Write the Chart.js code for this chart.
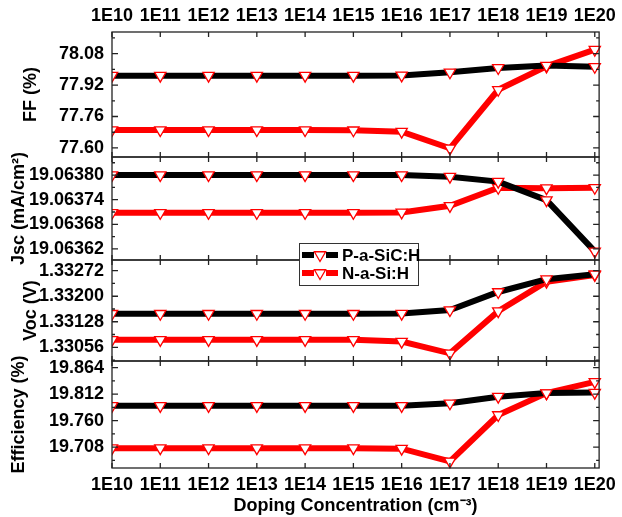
<!DOCTYPE html>
<html>
<head>
<meta charset="utf-8">
<script src="https://cdn.jsdelivr.net/npm/chart.js"></script>
<style>
  body { margin: 0; background: #fff; }
</style>
</head>
<body>
<canvas id="c" width="622" height="517"></canvas>
<script>
// doping levels (x axis)
var doping = ['1E10', '1E11', '1E12', '1E13', '1E14', '1E15', '1E16', '1E17', '1E18', '1E19', '1E20'];
var exponents = [10, 11, 12, 13, 14, 15, 16, 17, 18, 19, 20];
var seriesNames = ['P-a-SiC:H', 'N-a-Si:H'];

// values
var ffP = [77.968, 77.968, 77.968, 77.968, 77.968, 77.968, 77.969, 77.985, 78.007, 78.019, 78.013];
var ffN = [77.691, 77.691, 77.691, 77.691, 77.691, 77.690, 77.683, 77.598, 77.896, 78.015, 78.100];
var jscP = [19.063800, 19.063800, 19.063800, 19.063800, 19.063800, 19.063800, 19.063800, 19.063796, 19.063784, 19.063739, 19.063614];
var jscN = [19.063708, 19.063708, 19.063708, 19.063708, 19.063708, 19.063708, 19.063709, 19.063725, 19.063769, 19.063768, 19.063769];
var vocP = [1.331506, 1.331506, 1.331506, 1.331506, 1.331506, 1.331506, 1.331510, 1.33161, 1.33212, 1.33248, 1.33262];
var vocN = [1.33077, 1.33077, 1.33077, 1.33077, 1.33077, 1.33077, 1.33072, 1.33039, 1.33158, 1.33241, 1.33260];
var effP = [19.789, 19.789, 19.789, 19.789, 19.789, 19.789, 19.789, 19.794, 19.807, 19.814, 19.815];
var effN = [19.706, 19.706, 19.706, 19.706, 19.706, 19.706, 19.705, 19.680, 19.771, 19.814, 19.836];

// tick labels of each panel
var ffTicks = [77.60, 77.76, 77.92, 78.08];
var jscTicks = [19.06362, 19.06368, 19.06374, 19.06380];
var vocTicks = [1.33056, 1.33128, 1.33200, 1.33272];
var effTicks = [19.708, 19.760, 19.812, 19.864];

var FONT = "'Liberation Sans', Arial, sans-serif";

// top to bottom
var panels = [
  { id: 'yFF', title: 'FF (%)', p: ffP, n: ffN, ticks: ffTicks, min: 77.554, max: 78.19, digits: 2, weight: 125, pad: 14 },
  { id: 'yJsc', title: 'Jsc (mA/cm\u00B2)', p: jscP, n: jscN, ticks: jscTicks, min: 19.063593, max: 19.063844, digits: 5, weight: 103, pad: 2 },
  { id: 'yVoc', title: 'Voc (V)', p: vocP, n: vocN, ticks: vocTicks, min: 1.330173, max: 1.333022, digits: 5, weight: 101, pad: 14 },
  { id: 'yEff', title: 'Efficiency (%)', p: effP, n: effN, ticks: effTicks, min: 19.667, max: 19.877, digits: 3, weight: 107, pad: 2 }
];

function pts(vals) {
  return vals.map(function (v, i) { return { x: exponents[i], y: v }; });
}

function series(label, vals, axis, color) {
  return {
    label: label,
    data: pts(vals),
    xAxisID: 'x',
    yAxisID: axis,
    borderColor: color,
    backgroundColor: color,
    borderWidth: 6,
    fill: false,
    tension: 0,
    pointStyle: 'triangle',
    rotation: 180,
    pointRadius: 6.5,
    pointBorderColor: '#ff0000',
    pointBackgroundColor: '#ffffff',
    pointBorderWidth: 1.3,
    clip: { left: 0, top: false, right: false, bottom: false }
  };
}

var datasets = [];
panels.forEach(function (p) {
  datasets.push(series(seriesNames[0], p.p, p.id, '#000000'));
  datasets.push(series(seriesNames[1], p.n, p.id, '#ff0000'));
});

var tickFont = { family: FONT, size: 18, weight: 'bold' };

var scales = {
  x: {
    type: 'linear', position: 'bottom', min: 10, max: 20.09,
    grid: { display: false, drawTicks: false }, border: { display: false },
    afterBuildTicks: function (s) { s.ticks = exponents.map(function (v) { return { value: v }; }); },
    afterFit: function (s) { s.height = 49; },
    ticks: {
      autoSkip: false, maxRotation: 0, padding: 6, color: '#000', font: tickFont,
      callback: function (v, i) { return doping[i]; }
    },
    title: { display: true, text: 'Doping Concentration (cm\u207B\u00B3)', color: '#000', font: tickFont, padding: 0 }
  },
  x2: {
    type: 'linear', position: 'top', min: 10, max: 20.09,
    grid: { display: false, drawTicks: false }, border: { display: false },
    afterBuildTicks: function (s) { s.ticks = exponents.map(function (v) { return { value: v }; }); },
    afterFit: function (s) { s.height = 32; },
    ticks: {
      autoSkip: false, maxRotation: 0, padding: 5, color: '#000', font: tickFont,
      callback: function (v, i) { return doping[i]; }
    }
  }
};

// stacked y axes, the last one defined ends up on top
panels.slice().reverse().forEach(function (p) {
  scales[p.id] = {
    type: 'linear', position: 'left', stack: 'panels', stackWeight: p.weight,
    min: p.min, max: p.max,
    grid: { display: false, drawTicks: false }, border: { display: false },
    afterBuildTicks: function (s) { s.ticks = p.ticks.map(function (v) { return { value: v }; }); },
    afterFit: function (s) { s.width = 106; },
    ticks: {
      autoSkip: false, padding: 8, color: '#000', font: tickFont,
      callback: function (v) { return v.toFixed(p.digits); }
    },
    title: { display: true, text: p.title, color: '#000', font: tickFont, padding: { top: p.pad, bottom: 0 } }
  };
});

// frame of each panel with inward ticks
var framePlugin = {
  id: 'frame',
  afterDatasetsDraw: function (chart) {
    var ctx = chart.ctx, a = chart.chartArea, xs = chart.scales.x;
    ctx.save();
    ctx.strokeStyle = '#222';
    ctx.lineWidth = 1.3;
    panels.forEach(function (p) {
      var s = chart.scales[p.id];
      ctx.strokeRect(a.left, s.top, a.right - a.left, s.bottom - s.top);
      ctx.beginPath();
      exponents.forEach(function (e) {
        var px = xs.getPixelForValue(e);
        ctx.moveTo(px, s.top); ctx.lineTo(px, s.top + 5);
        ctx.moveTo(px, s.bottom); ctx.lineTo(px, s.bottom - 5);
      });
      var step = p.ticks[1] - p.ticks[0];
      p.ticks.forEach(function (t, i) {
        var py = s.getPixelForValue(t);
        ctx.moveTo(a.left, py); ctx.lineTo(a.left + 6, py);
        ctx.moveTo(a.right, py); ctx.lineTo(a.right - 6, py);
        var minors = [t + step / 2];
        if (i === 0) minors.push(t - step / 2);
        minors.forEach(function (m) {
          if (m <= p.min || m >= p.max) return;
          var my = s.getPixelForValue(m);
          ctx.moveTo(a.left, my); ctx.lineTo(a.left + 3, my);
          ctx.moveTo(a.right, my); ctx.lineTo(a.right - 3, my);
        });
      });
      ctx.stroke();
    });
    ctx.restore();
  }
};

function downTriangle(ctx, x, y, r) {
  ctx.beginPath();
  for (var k = 0; k < 3; k++) {
    var ang = Math.PI + k * 2 * Math.PI / 3;
    var px = x + Math.sin(ang) * r, py = y - Math.cos(ang) * r;
    if (k === 0) ctx.moveTo(px, py); else ctx.lineTo(px, py);
  }
  ctx.closePath();
  ctx.fillStyle = '#fff';
  ctx.fill();
  ctx.strokeStyle = '#ff0000';
  ctx.lineWidth = 1.3;
  ctx.stroke();
}

var legendPlugin = {
  id: 'boxLegend',
  afterDraw: function (chart) {
    var ctx = chart.ctx;
    var colors = ['#000000', '#ff0000'];
    ctx.save();
    ctx.fillStyle = '#fff';
    ctx.fillRect(299, 243, 119, 42);
    ctx.strokeStyle = '#333';
    ctx.lineWidth = 1;
    ctx.strokeRect(299.5, 243.5, 119, 42);
    seriesNames.forEach(function (name, i) {
      var y = 255 + i * 18;
      ctx.fillStyle = colors[i];
      ctx.fillRect(302, y - 3, 12, 6);
      ctx.fillRect(326, y - 3, 12, 6);
      downTriangle(ctx, 320, y, 6.5);
      ctx.fillStyle = '#000';
      ctx.font = 'bold 17px ' + FONT;
      ctx.textBaseline = 'middle';
      ctx.fillText(name, 342, y + 1);
    });
    ctx.restore();
  }
};

new Chart(document.getElementById('c').getContext('2d'), {
  type: 'line',
  data: { datasets: datasets },
  options: {
    responsive: false,
    animation: false,
    layout: { padding: { left: 6, right: 20, top: 0, bottom: 0 } },
    plugins: { legend: { display: false }, tooltip: { enabled: false } },
    scales: scales
  },
  plugins: [framePlugin, legendPlugin]
});
</script>
</body>
</html>
